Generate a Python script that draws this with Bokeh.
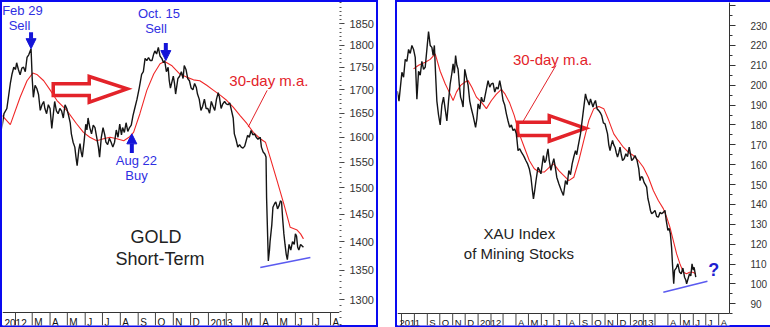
import pandas as pd
import numpy as np
from bokeh.plotting import figure
from bokeh.layouts import row
from bokeh.models import Range1d, FixedTicker, NumeralTickFormatter, LinearScale, Arrow, NormalHead
from bokeh.core.properties import value
from bokeh.embed import file_html
from bokeh.resources import INLINE

FONT = "Liberation Sans"
BLUE_TXT = "#2f2fe2"
BLUE_ARR = "#1414d8"
RED = "#e3232a"
MA_RED = "#f02828"
BORDER = "#0a0af0"

# ---------------- GOLD (left panel) ----------------
gold_dates = [
    "2012-01-06", "2012-01-09", "2012-01-12", "2012-01-17", "2012-01-23", "2012-01-26", "2012-01-29",
    "2012-02-01", "2012-02-03", "2012-02-06", "2012-02-09", "2012-02-12", "2012-02-15", "2012-02-18",
    "2012-02-21", "2012-02-24", "2012-02-28", "2012-03-01", "2012-03-03", "2012-03-06", "2012-03-09",
    "2012-03-12", "2012-03-15", "2012-03-18", "2012-03-21", "2012-03-23", "2012-03-26", "2012-03-29",
    "2012-04-01", "2012-04-04", "2012-04-09", "2012-04-12", "2012-04-15", "2012-04-18", "2012-04-21",
    "2012-04-24", "2012-04-27", "2012-04-30", "2012-05-03", "2012-05-06", "2012-05-08", "2012-05-11",
    "2012-05-14", "2012-05-16", "2012-05-18", "2012-05-21", "2012-05-23", "2012-05-25", "2012-05-27",
    "2012-05-30", "2012-06-02", "2012-06-04", "2012-06-06", "2012-06-09", "2012-06-12", "2012-06-15",
    "2012-06-18", "2012-06-21", "2012-06-24", "2012-06-26", "2012-06-29", "2012-07-02", "2012-07-05",
    "2012-07-07", "2012-07-10", "2012-07-13", "2012-07-16", "2012-07-19", "2012-07-22", "2012-07-25",
    "2012-07-28", "2012-07-31", "2012-08-03", "2012-08-05", "2012-08-08", "2012-08-11", "2012-08-14",
    "2012-08-17", "2012-08-20", "2012-08-23", "2012-08-26", "2012-08-30", "2012-09-03", "2012-09-07",
    "2012-09-10", "2012-09-13", "2012-09-16", "2012-09-19", "2012-09-22", "2012-09-25", "2012-09-28",
    "2012-09-30", "2012-10-03", "2012-10-06", "2012-10-09", "2012-10-12", "2012-10-15", "2012-10-17",
    "2012-10-20", "2012-10-23", "2012-10-25", "2012-10-27", "2012-11-01", "2012-11-03", "2012-11-05",
    "2012-11-09", "2012-11-12", "2012-11-15", "2012-11-18", "2012-11-20", "2012-11-23", "2012-11-26",
    "2012-11-29", "2012-12-02", "2012-12-05", "2012-12-08", "2012-12-11", "2012-12-13", "2012-12-16",
    "2012-12-19", "2012-12-22", "2012-12-25", "2012-12-28", "2012-12-31", "2013-01-03", "2013-01-06",
    "2013-01-09", "2013-01-12", "2013-01-15", "2013-01-18", "2013-01-20", "2013-01-23", "2013-01-26",
    "2013-01-29", "2013-02-01", "2013-02-04", "2013-02-07", "2013-02-10", "2013-02-13", "2013-02-15",
    "2013-02-18", "2013-02-21", "2013-02-24", "2013-02-27", "2013-03-02", "2013-03-05", "2013-03-08",
    "2013-03-10", "2013-03-13", "2013-03-16", "2013-03-19", "2013-03-22", "2013-03-25", "2013-03-28",
    "2013-04-01", "2013-04-03", "2013-04-06", "2013-04-09", "2013-04-11", "2013-04-12", "2013-04-15",
    "2013-04-17", "2013-04-18", "2013-04-21", "2013-04-23", "2013-04-26", "2013-04-28", "2013-05-01",
    "2013-05-04", "2013-05-06", "2013-05-08", "2013-05-10", "2013-05-12", "2013-05-14", "2013-05-16",
    "2013-05-18", "2013-05-21", "2013-05-24", "2013-05-27", "2013-05-30", "2013-06-01", "2013-06-03",
    "2013-06-05", "2013-06-07", "2013-06-10", "2013-06-15",
]
gold_close = [
    1610, 1625, 1649, 1660, 1714, 1735, 1750,
    1745, 1760, 1745, 1733, 1748, 1750, 1740,
    1772, 1778, 1792, 1725, 1684, 1710, 1703,
    1690, 1656, 1668, 1675, 1660, 1649, 1668,
    1660, 1618, 1675, 1655, 1649, 1660, 1655,
    1640, 1668, 1660, 1646, 1630, 1607, 1590,
    1580, 1560, 1543, 1575, 1587, 1570, 1560,
    1590, 1627, 1615, 1640, 1620, 1607, 1625,
    1620, 1600, 1580, 1560, 1600, 1620, 1605,
    1590, 1585, 1598, 1590, 1580, 1590, 1615,
    1600, 1627, 1605, 1620, 1610, 1630, 1612,
    1620, 1625, 1645, 1660, 1680, 1705, 1734,
    1740, 1770, 1765, 1772, 1765, 1765, 1780,
    1787, 1780, 1795, 1775, 1770, 1760, 1765,
    1740, 1750, 1720, 1704, 1730, 1715, 1691,
    1725, 1730, 1740, 1725, 1754, 1745, 1725,
    1720, 1704, 1700, 1714, 1705, 1691, 1680,
    1656, 1665, 1680, 1660, 1660, 1650, 1675,
    1665, 1656, 1680, 1694, 1685, 1660, 1670,
    1675, 1670, 1668, 1672, 1656, 1640, 1607,
    1595, 1580, 1585, 1580, 1578, 1582, 1595,
    1604, 1600, 1614, 1605, 1607, 1600, 1596,
    1600, 1580, 1570, 1566, 1560, 1480, 1366,
    1385, 1400, 1430, 1463, 1470, 1473, 1460,
    1467, 1475, 1473, 1440, 1414, 1395, 1378,
    1368, 1395, 1385, 1400, 1395, 1414, 1410,
    1390, 1385, 1395, 1390,
]
gold_ma_dates = [
    "2012-01-06", "2012-01-23", "2012-02-09", "2012-02-21", "2012-03-02", "2012-03-09", "2012-03-21",
    "2012-04-01", "2012-04-13", "2012-04-30", "2012-05-17", "2012-05-29", "2012-06-09", "2012-06-21",
    "2012-07-03", "2012-07-14", "2012-07-26", "2012-08-07", "2012-08-16", "2012-08-24", "2012-09-04",
    "2012-09-16", "2012-09-28", "2012-10-09", "2012-10-17", "2012-10-29", "2012-11-12", "2012-11-24",
    "2012-12-06", "2012-12-17", "2012-12-29", "2013-01-10", "2013-01-22", "2013-02-02", "2013-02-13",
    "2013-02-25", "2013-03-09", "2013-03-20", "2013-04-01", "2013-04-10", "2013-04-18", "2013-04-30",
    "2013-05-12", "2013-05-23", "2013-06-04", "2013-06-10", "2013-06-15",
]
gold_ma = [
    1649, 1626, 1684, 1720, 1737, 1734, 1720,
    1700, 1677, 1656, 1628, 1610, 1600, 1593,
    1597, 1600, 1597, 1593, 1600, 1610, 1649,
    1699, 1735, 1758, 1763, 1754, 1735, 1728,
    1722, 1720, 1710, 1699, 1688, 1677, 1663,
    1645, 1628, 1610, 1597, 1590, 1560, 1514,
    1469, 1426, 1421, 1414, 1405,
]
gold_ticks = [1300, 1350, 1400, 1450, 1500, 1550, 1600, 1650, 1700, 1750, 1800, 1850]
gold_minor_ticks = list(range(1260, 1910, 10))
gold_months_start = "2012-01-01"
gold_month_labels = ["2012", "", "M", "A", "M", "J", "J", "A", "S", "O", "N", "D",
                     "2013", "", "M", "A", "M", "J", "J", "A"]

# ---------------- XAU (right panel) ----------------
xau_dates = [
    "2011-06-21", "2011-06-25", "2011-07-02", "2011-07-06", "2011-07-10", "2011-07-14", "2011-07-18",
    "2011-07-22", "2011-07-26", "2011-07-30", "2011-08-03", "2011-08-07", "2011-08-11", "2011-08-15",
    "2011-08-19", "2011-08-23", "2011-08-27", "2011-08-31", "2011-09-04", "2011-09-08", "2011-09-12",
    "2011-09-15", "2011-09-18", "2011-09-21", "2011-09-24", "2011-09-28", "2011-10-02", "2011-10-06",
    "2011-10-10", "2011-10-14", "2011-10-18", "2011-10-22", "2011-10-26", "2011-10-30", "2011-11-02",
    "2011-11-05", "2011-11-08", "2011-11-11", "2011-11-14", "2011-11-17", "2011-11-20", "2011-11-23",
    "2011-11-26", "2011-11-30", "2011-12-04", "2011-12-08", "2011-12-12", "2011-12-16", "2011-12-20",
    "2011-12-26", "2011-12-29", "2012-01-01", "2012-01-05", "2012-01-09", "2012-01-12", "2012-01-15",
    "2012-01-20", "2012-01-25", "2012-01-29", "2012-02-02", "2012-02-06", "2012-02-10", "2012-02-14",
    "2012-02-18", "2012-02-22", "2012-02-26", "2012-03-01", "2012-03-05", "2012-03-09", "2012-03-13",
    "2012-03-17", "2012-03-21", "2012-03-25", "2012-03-29", "2012-04-02", "2012-04-06", "2012-04-10",
    "2012-04-14", "2012-04-18", "2012-04-21", "2012-04-25", "2012-04-29", "2012-05-03", "2012-05-07",
    "2012-05-10", "2012-05-13", "2012-05-16", "2012-05-19", "2012-05-22", "2012-05-24", "2012-05-28",
    "2012-05-31", "2012-06-03", "2012-06-06", "2012-06-09", "2012-06-12", "2012-06-15", "2012-06-17",
    "2012-06-20", "2012-06-24", "2012-06-27", "2012-07-01", "2012-07-05", "2012-07-08", "2012-07-13",
    "2012-07-19", "2012-07-24", "2012-07-29", "2012-08-02", "2012-08-06", "2012-08-10", "2012-08-14",
    "2012-08-18", "2012-08-22", "2012-08-25", "2012-08-28", "2012-09-03", "2012-09-09", "2012-09-15",
    "2012-09-18", "2012-09-20", "2012-09-24", "2012-09-27", "2012-10-03", "2012-10-06", "2012-10-09",
    "2012-10-13", "2012-10-17", "2012-10-21", "2012-10-24", "2012-10-28", "2012-11-01", "2012-11-04",
    "2012-11-07", "2012-11-10", "2012-11-13", "2012-11-16", "2012-11-19", "2012-11-22", "2012-11-25",
    "2012-11-28", "2012-12-01", "2012-12-04", "2012-12-07", "2012-12-10", "2012-12-13", "2012-12-17",
    "2012-12-21", "2012-12-25", "2012-12-29", "2013-01-04", "2013-01-08", "2013-01-12", "2013-01-17",
    "2013-01-21", "2013-01-24", "2013-01-27", "2013-01-30", "2013-02-03", "2013-02-06", "2013-02-09",
    "2013-02-12", "2013-02-15", "2013-02-18", "2013-02-21", "2013-02-25", "2013-03-01", "2013-03-05",
    "2013-03-09", "2013-03-13", "2013-03-17", "2013-03-21", "2013-03-25", "2013-03-28", "2013-04-01",
    "2013-04-04", "2013-04-07", "2013-04-10", "2013-04-12", "2013-04-15", "2013-04-17", "2013-04-21",
    "2013-04-25", "2013-04-29", "2013-05-03", "2013-05-07", "2013-05-11", "2013-05-14", "2013-05-16",
    "2013-05-20", "2013-05-23", "2013-05-26", "2013-05-29", "2013-06-01", "2013-06-03", "2013-06-07",
]
xau_close = [
    197, 192, 206.5, 204, 213, 212, 218,
    216, 220, 218, 214, 193, 207, 205,
    212, 208, 209, 218, 227, 220, 219,
    215, 220, 205, 192, 185, 180, 190,
    194, 188, 182, 192, 200.7, 206, 210.7,
    206, 214.9, 210, 208, 200, 194, 192,
    189, 208, 204, 200, 192, 188, 184.7,
    178.8, 183, 190.6, 188, 194, 192, 191.7,
    197, 202.3, 199, 200.7, 201, 196.5, 199,
    198, 202.3, 198, 192.3, 190, 185.6, 182,
    178.8, 180, 177.2, 178, 175.5, 167.1, 168,
    166.3, 165, 163.8, 162, 160.4, 158, 153.7,
    148, 142.8, 147, 151.8, 156, 158.7, 157,
    155.4, 160, 164.6, 161, 162.1, 166, 168,
    162, 157.1, 160, 163, 158, 153.7, 150.4,
    147, 144.5, 152, 150, 157.1, 155, 160.4,
    164, 167.1, 165, 168.8, 175.5, 185.6, 195.6,
    193, 192.3, 190, 193.1, 189, 191, 192.3,
    188, 187.2, 186, 184.7, 181, 180.5, 178,
    175.5, 170, 167.1, 170, 172.2, 170, 168.8,
    166, 163.8, 166, 168.8, 165, 162.1, 163,
    165.5, 164, 168.8, 162.1, 163, 164.6, 162.1,
    158, 152, 154, 153.7, 151, 150, 148.7,
    143, 140.3, 137, 135.3, 136, 137, 134,
    133.6, 136, 135.3, 136, 137, 132, 126.9,
    128, 125.2, 118, 110, 100.1, 106.8, 108,
    110.1, 106, 105.1, 108, 103.4, 102, 100.1,
    103, 105.1, 104, 110.1, 107, 108.4, 103.4,
]
xau_ma_dates = [
    "2011-07-30", "2011-08-11", "2011-08-27", "2011-09-08", "2011-09-20", "2011-10-02", "2011-10-14",
    "2011-10-26", "2011-11-02", "2011-11-10", "2011-11-20", "2011-11-30", "2011-12-08", "2011-12-17",
    "2011-12-28", "2012-01-09", "2012-01-21", "2012-02-02", "2012-02-14", "2012-02-26", "2012-03-06",
    "2012-03-17", "2012-03-28", "2012-04-09", "2012-04-21", "2012-05-03", "2012-05-15", "2012-05-27",
    "2012-06-08", "2012-06-20", "2012-07-01", "2012-07-13", "2012-07-25", "2012-08-06", "2012-08-18",
    "2012-08-30", "2012-09-11", "2012-09-23", "2012-10-05", "2012-10-17", "2012-10-29", "2012-11-10",
    "2012-11-22", "2012-12-03", "2012-12-15", "2012-12-27", "2013-01-08", "2013-01-20", "2013-02-01",
    "2013-02-13", "2013-02-25", "2013-03-09", "2013-03-21", "2013-03-29", "2013-04-06", "2013-04-14",
    "2013-04-22", "2013-04-30", "2013-05-08", "2013-05-16", "2013-05-23", "2013-05-31", "2013-06-07",
]
xau_ma = [
    208.2, 210, 211.5, 213, 215.8, 207, 200.7,
    195.5, 192.3, 196.5, 199.9, 201.5, 202.3, 199,
    194, 191.5, 188.2, 192.3, 195.5, 197.9, 195.5,
    191, 184.7, 175.5, 168.8, 162.1, 158, 156.3,
    156.3, 158.7, 160.4, 157, 154.5, 152, 153.7,
    162.1, 172.2, 182.2, 188.2, 189.3, 188.2, 182.2,
    175.5, 172.2, 168.8, 166.3, 164.6, 162.1, 158.7,
    153.7, 147, 142, 137.9, 133.6, 128.5, 121.8,
    115.1, 110.1, 105.9, 105.1, 105.9, 105.9, 105.1,
]
xau_ticks = [90, 100, 110, 120, 130, 140, 150, 160, 170, 180, 190, 200, 210, 220, 230, 240]
xau_minor_ticks = list(range(85, 246, 5))
xau_months_start = "2011-06-01"
xau_month_labels = ["2011", "", "", "S", "O", "N", "D", "2012", "", "", "A", "M", "J", "J", "A",
                    "S", "O", "N", "D", "2013", "", "", "A", "M", "J", "J", "A"]


def ms(dates):
    return (pd.to_datetime(pd.Series(dates)).astype("int64") / 1e6).tolist()


def ms1(d):
    return pd.Timestamp(d).value / 1e6


B = 2          # blue frame thickness (px)
H = 327        # figure height
FRAME_H = H - 2 * B


def make_panel(width, xr, yr, log, min_right):
    p = figure(width=width, height=H, output_backend="svg", toolbar_location=None,
               x_axis_type="datetime", y_axis_type="log" if log else "linear",
               x_axis_location=None, y_axis_location="right",
               x_range=Range1d(xr[0], xr[1]), y_range=Range1d(yr[0], yr[1]),
               min_border_left=B, min_border_right=min_right, min_border_top=B, min_border_bottom=B,
               background_fill_color="white", border_fill_color=None, outline_line_color=None)
    p.xgrid.visible = False
    p.ygrid.visible = False
    p.extra_y_ranges = {"band": Range1d(0, FRAME_H)}
    p.extra_y_scales = {"band": LinearScale()}
    return p


def month_band(p, xr, start, labels, top, font_size):
    starts = ms(pd.date_range(start, periods=len(labels), freq="MS"))
    n = len(starts)
    p.segment(x0=[xr[0]], x1=[xr[1]], y0=[top], y1=[top], y_range_name="band",
              line_color="#333333", line_width=1)
    p.segment(x0=starts, x1=starts, y0=[0] * n, y1=[top] * n, y_range_name="band",
              line_color="#444444", line_width=1)
    lx = [max(s, xr[0]) for s, t in zip(starts, labels) if t]
    lt = [t for t in labels if t]
    p.text(x=lx, y=[3] * len(lt), text=lt, y_range_name="band", x_offset=2,
           text_align="left", text_baseline="alphabetic", text_font=value(FONT),
           text_font_size=font_size, text_color="#111111")


def hollow_arrow(p, x_tail, x_base, x_tip, y_shaft_top, y_shaft_bot, y_head_top, y_head_bot, y_tip):
    xs = [x_tail, x_base, x_base, x_tip, x_base, x_base, x_tail]
    ys = [y_shaft_top, y_shaft_top, y_head_top, y_tip, y_head_bot, y_shaft_bot, y_shaft_bot]
    p.patch(xs, ys, fill_color="white", line_color=RED, line_width=3.5, line_join="miter")


def label(p, x, y, txt, size, color, style="normal"):
    p.text(x=[ms1(x)], y=[y], text=[txt], text_align="center", text_baseline="middle",
           text_font=value(FONT), text_font_size=size, text_color=color, text_font_style=style)


def down_up_arrow(p, x, y0, y1):
    p.add_layout(Arrow(end=NormalHead(size=10, fill_color=BLUE_ARR, line_color=BLUE_ARR),
                       x_start=ms1(x), y_start=y0, x_end=ms1(x), y_end=y1,
                       line_color=BLUE_ARR, line_width=4))


def blue_frame(sides):
    shadows = {"left": f"inset {B}px 0 0 0 {BORDER}", "right": f"inset -{B}px 0 0 0 {BORDER}",
               "top": f"inset 0 {B}px 0 0 {BORDER}", "bottom": f"inset 0 -{B}px 0 0 {BORDER}"}
    return {"box-shadow": ", ".join(shadows[s] for s in sides), "background-color": "white"}


# ---------- left panel ----------
gx = (ms1("2012-01-09 10:00"), ms1("2013-08-16 14:00"))
p1 = make_panel(378, gx, (1257.6, 1901.1), True, 39)
ax = p1.yaxis[0]
ax.ticker = FixedTicker(ticks=gold_ticks, minor_ticks=gold_minor_ticks)
ax.formatter = NumeralTickFormatter(format="0")
ax.axis_line_color = None
ax.major_tick_in = 0
ax.major_tick_out = 5
ax.minor_tick_in = 0
ax.minor_tick_out = 2
ax.major_tick_line_color = "#444444"
ax.minor_tick_line_color = "#555555"
ax.major_label_standoff = 5
ax.major_label_text_font = FONT
ax.major_label_text_font_size = "11px"
ax.major_label_text_color = "#333333"

month_band(p1, gx, gold_months_start, gold_month_labels, 13, "10px")

hollow_arrow(p1, ms1("2012-04-06 12:00"), ms1("2012-06-08"), ms1("2012-08-13"),
             1713.3, 1687.8, 1729.4, 1673.3, 1702.4)
p1.line(ms(gold_ma_dates), gold_ma, line_color=MA_RED, line_width=1.1)
p1.line(ms(gold_dates), gold_close, line_color="#151515", line_width=1.4)
p1.line([ms1("2013-04-13"), ms1("2013-03-11")], [1699, 1621], line_color=RED, line_width=1)
p1.line([ms1("2013-04-01"), ms1("2013-06-27")], [1354.4, 1371.8], line_color="#5b5bf0", line_width=1.6)

down_up_arrow(p1, "2012-02-28", 1830, 1792)
down_up_arrow(p1, "2012-10-19", 1805, 1765)
down_up_arrow(p1, "2012-08-21", 1568, 1607)

label(p1, "2012-02-13", 1882, "Feb 29", "13px", BLUE_TXT)
label(p1, "2012-02-08", 1846, "Sell", "13px", BLUE_TXT)
label(p1, "2012-10-07", 1874, "Oct. 15", "13px", BLUE_TXT)
label(p1, "2012-10-02", 1838, "Sell", "13px", BLUE_TXT)
label(p1, "2012-08-29", 1554, "Aug 22", "13px", BLUE_TXT)
label(p1, "2012-08-29", 1524, "Buy", "13px", BLUE_TXT)
label(p1, "2013-04-16", 1720, "30-day m.a.", "15px", RED)
label(p1, "2012-10-02", 1408, "GOLD", "18px", "#222222")
label(p1, "2012-10-09", 1369, "Short-Term", "18px", "#222222")

p1.styles = blue_frame(["left", "right", "top", "bottom"])

# ---------- right panel ----------
xx = (ms1("2011-06-21 10:00"), ms1("2013-08-27"))
p2 = make_panel(375, xx, (79.1, 241.6), False, 38)
bx = p2.yaxis[0]
bx.ticker = FixedTicker(ticks=xau_ticks, minor_ticks=xau_minor_ticks)
bx.major_label_overrides = {240: ""}
bx.bounds = (85.2, 245)
bx.axis_line_color = "#333333"
bx.major_tick_in = 0
bx.major_tick_out = 6
bx.minor_tick_in = 0
bx.minor_tick_out = 3
bx.major_tick_line_color = "#333333"
bx.minor_tick_line_color = "#333333"
bx.major_label_standoff = 15
bx.major_label_text_font = FONT
bx.major_label_text_font_size = "10px"
bx.major_label_text_color = "#333333"

month_band(p2, xx, xau_months_start, xau_month_labels, 12, "9.5px")

hollow_arrow(p2, ms1("2012-04-05"), ms1("2012-06-20"), ms1("2012-09-15"),
             181.4, 174.7, 184.7, 171.8, 178.3)
p2.line(ms(xau_ma_dates), xau_ma, line_color=MA_RED, line_width=1.1)
p2.line(ms(xau_dates), xau_close, line_color="#151515", line_width=1.4)
p2.line([ms1("2012-07-06"), ms1("2012-04-17")], [209.9, 181.4], line_color=RED, line_width=1)
p2.line([ms1("2013-03-21"), ms1("2013-07-05")], [95.8, 101.4], line_color="#5b5bf0", line_width=1.6)

label(p2, "2012-06-28", 212.7, "30-day m.a.", "15px", RED)
label(p2, "2012-04-09", 125.2, "XAU Index", "15px", "#222222")
label(p2, "2012-04-08", 115.2, "of Mining Stocks", "15px", "#222222")
label(p2, "2013-07-20", 106.8, "?", "18px", "#1f1fd0", "bold")

p2.styles = blue_frame(["left", "top", "bottom"])

layout = row(p1, p2, spacing=17)
open("out.html", "w").write(file_html(layout, INLINE))
